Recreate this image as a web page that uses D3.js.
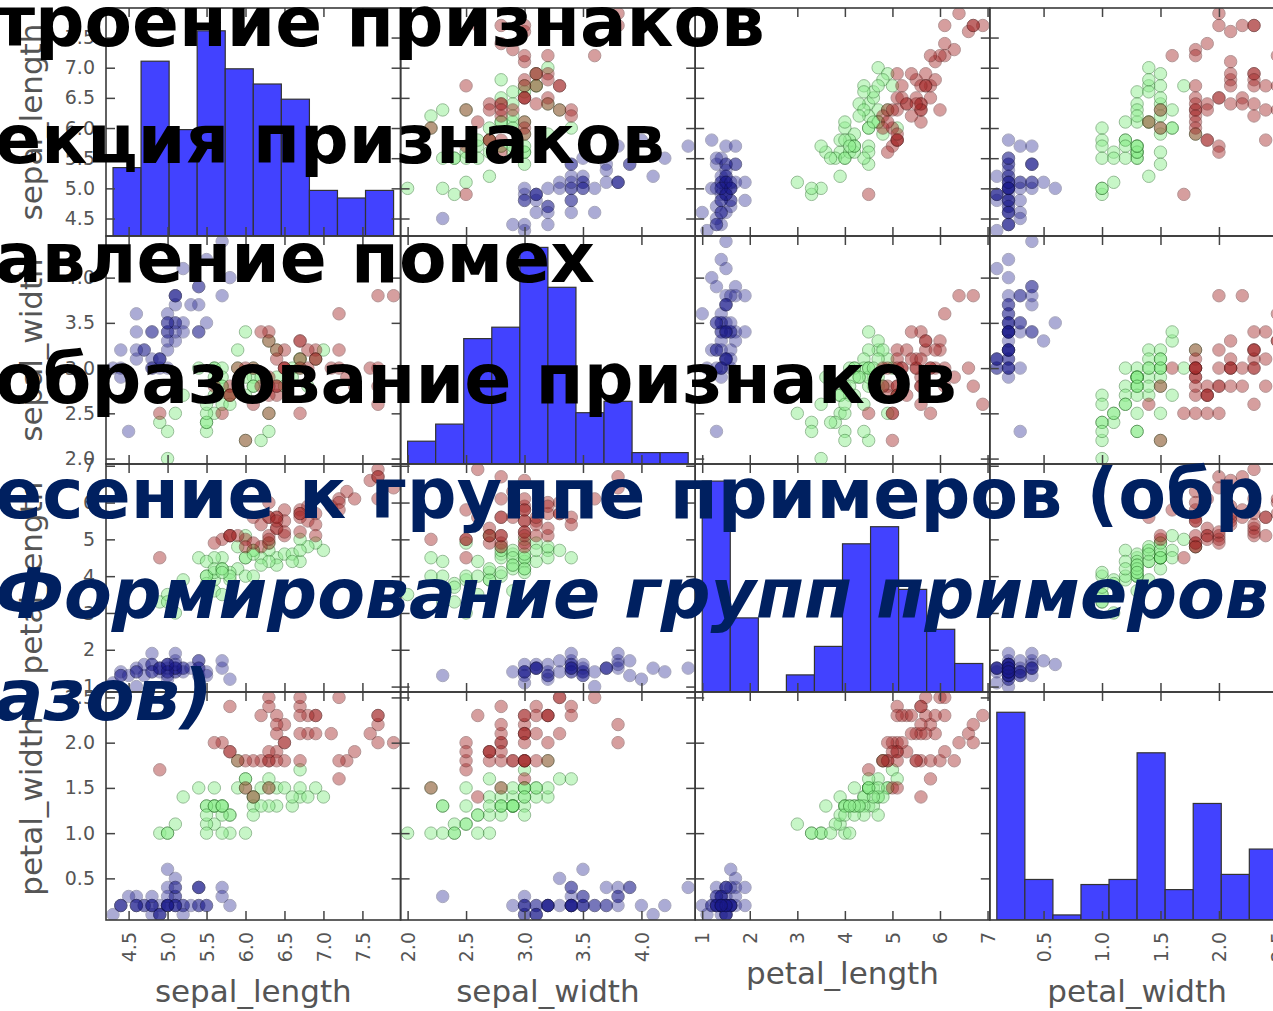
<!DOCTYPE html>
<html>
<head>
<meta charset="utf-8">
<script src="https://cdn.jsdelivr.net/npm/d3@7"></script>
<style>
  body { margin: 0; background: #fff; }
  svg { display: block; }
</style>
</head>
<body>
<div id="chart"></div>
<script>
// iris data: [sepal_length, sepal_width, petal_length, petal_width]
const features = ["sepal_length", "sepal_width", "petal_length", "petal_width"];

const setosa = [
  [5.1,3.5,1.4,0.2],[4.9,3.0,1.4,0.2],[4.7,3.2,1.3,0.2],[4.6,3.1,1.5,0.2],[5.0,3.6,1.4,0.2],
  [5.4,3.9,1.7,0.4],[4.6,3.4,1.4,0.3],[5.0,3.4,1.5,0.2],[4.4,2.9,1.4,0.2],[4.9,3.1,1.5,0.1],
  [5.4,3.7,1.5,0.2],[4.8,3.4,1.6,0.2],[4.8,3.0,1.4,0.1],[4.3,3.0,1.1,0.1],[5.8,4.0,1.2,0.2],
  [5.7,4.4,1.5,0.4],[5.4,3.9,1.3,0.4],[5.1,3.5,1.4,0.3],[5.7,3.8,1.7,0.3],[5.1,3.8,1.5,0.3],
  [5.4,3.4,1.7,0.2],[5.1,3.7,1.5,0.4],[4.6,3.6,1.0,0.2],[5.1,3.3,1.7,0.5],[4.8,3.4,1.9,0.2],
  [5.0,3.0,1.6,0.2],[5.0,3.4,1.6,0.4],[5.2,3.5,1.5,0.2],[5.2,3.4,1.4,0.2],[4.7,3.2,1.6,0.2],
  [4.8,3.1,1.6,0.2],[5.4,3.4,1.5,0.4],[5.2,4.1,1.5,0.1],[5.5,4.2,1.4,0.2],[4.9,3.1,1.5,0.1],
  [5.0,3.2,1.2,0.2],[5.5,3.5,1.3,0.2],[4.9,3.1,1.5,0.1],[4.4,3.0,1.3,0.2],[5.1,3.4,1.5,0.2],
  [5.0,3.5,1.3,0.3],[4.5,2.3,1.3,0.3],[4.4,3.2,1.3,0.2],[5.0,3.5,1.6,0.6],[5.1,3.8,1.9,0.4],
  [4.8,3.0,1.4,0.3],[5.1,3.8,1.6,0.2],[4.6,3.2,1.4,0.2],[5.3,3.7,1.5,0.2],[5.0,3.3,1.4,0.2]
];

const versicolor = [
  [7.0,3.2,4.7,1.4],[6.4,3.2,4.5,1.5],[6.9,3.1,4.9,1.5],[5.5,2.3,4.0,1.3],[6.5,2.8,4.6,1.5],
  [5.7,2.8,4.5,1.3],[6.3,3.3,4.7,1.6],[4.9,2.4,3.3,1.0],[6.6,2.9,4.6,1.3],[5.2,2.7,3.9,1.4],
  [5.0,2.0,3.5,1.0],[5.9,3.0,4.2,1.5],[6.0,2.2,4.0,1.0],[6.1,2.9,4.7,1.4],[5.6,2.9,3.6,1.3],
  [6.7,3.1,4.4,1.4],[5.6,3.0,4.5,1.5],[5.8,2.7,4.1,1.0],[6.2,2.2,4.5,1.5],[5.6,2.5,3.9,1.1],
  [5.9,3.2,4.8,1.8],[6.1,2.8,4.0,1.3],[6.3,2.5,4.9,1.5],[6.1,2.8,4.7,1.2],[6.4,2.9,4.3,1.3],
  [6.6,3.0,4.4,1.4],[6.8,2.8,4.8,1.4],[6.7,3.0,5.0,1.7],[6.0,2.9,4.5,1.5],[5.7,2.6,3.5,1.0],
  [5.5,2.4,3.8,1.1],[5.5,2.4,3.7,1.0],[5.8,2.7,3.9,1.2],[6.0,2.7,5.1,1.6],[5.4,3.0,4.5,1.5],
  [6.0,3.4,4.5,1.6],[6.7,3.1,4.7,1.5],[6.3,2.3,4.4,1.3],[5.6,3.0,4.1,1.3],[5.5,2.5,4.0,1.3],
  [5.5,2.6,4.4,1.2],[6.1,3.0,4.6,1.4],[5.8,2.6,4.0,1.2],[5.0,2.3,3.3,1.0],[5.6,2.7,4.2,1.3],
  [5.7,3.0,4.2,1.2],[5.7,2.9,4.2,1.3],[6.2,2.9,4.3,1.3],[5.1,2.5,3.0,1.1],[5.7,2.8,4.1,1.3]
];

const virginica = [
  [6.3,3.3,6.0,2.5],[5.8,2.7,5.1,1.9],[7.1,3.0,5.9,2.1],[6.3,2.9,5.6,1.8],[6.5,3.0,5.8,2.2],
  [7.6,3.0,6.6,2.1],[4.9,2.5,4.5,1.7],[7.3,2.9,6.3,1.8],[6.7,2.5,5.8,1.8],[7.2,3.6,6.1,2.5],
  [6.5,3.2,5.1,2.0],[6.4,2.7,5.3,1.9],[6.8,3.0,5.5,2.1],[5.7,2.5,5.0,2.0],[5.8,2.8,5.1,2.4],
  [6.4,3.2,5.3,2.3],[6.5,3.0,5.5,1.8],[7.7,3.8,6.7,2.2],[7.7,2.6,6.9,2.3],[6.0,2.2,5.0,1.5],
  [6.9,3.2,5.7,2.3],[5.6,2.8,4.9,2.0],[7.7,2.8,6.7,2.0],[6.3,2.7,4.9,1.8],[6.7,3.3,5.7,2.1],
  [7.2,3.2,6.0,1.8],[6.2,2.8,4.8,1.8],[6.1,3.0,4.9,1.8],[6.4,2.8,5.6,2.1],[7.2,3.0,5.8,1.6],
  [7.4,2.8,6.1,1.9],[7.9,3.8,6.4,2.0],[6.4,2.8,5.6,2.2],[6.3,2.8,5.1,1.5],[6.1,2.6,5.6,1.4],
  [7.7,3.0,6.1,2.3],[6.3,3.4,5.6,2.4],[6.4,3.1,5.5,1.8],[6.0,3.0,4.8,1.8],[6.9,3.1,5.4,2.1],
  [6.7,3.1,5.6,2.4],[6.9,3.1,5.1,2.3],[5.8,2.7,5.1,1.9],[6.8,3.2,5.9,2.3],[6.7,3.3,5.7,2.5],
  [6.7,3.0,5.2,2.3],[6.3,2.5,5.0,1.9],[6.5,3.0,5.2,2.0],[6.2,3.4,5.4,2.3],[5.9,3.0,5.1,1.8]
];

// tick labels shown on the axes
const sepalLengthTicks = [4.5, 5.0, 5.5, 6.0, 6.5, 7.0, 7.5];
const sepalWidthTicks = [2.0, 2.5, 3.0, 3.5, 4.0];
const petalLengthTicks = [1, 2, 3, 4, 5, 6, 7];
const petalWidthTicks = [0.5, 1.0, 1.5, 2.0, 2.5];

// slide text laid over the chart (visible parts)
const headingLines = [
  "троение признаков",
  "екция признаков",
  "авление помех",
  "образование признаков",
  "есение к группе примеров (обр",
  "Формирование групп примеров",
  "азов)"
];

const W = 1273, H = 1011;
const gridLeft = 106, gridTop = 8, cellW = 294.6, cellH = 228;
const nBins = 10;
const speciesColor = ["#1a1a8c", "#90ee90", "#a52a2a"];
const speciesStroke = ["#10104a", "#2d7a2d", "#5a1414"];
const speciesOpacity = [0.36, 0.5, 0.45];
const axisColor = "#444";
const labelColor = "#555";

const tickSets = [sepalLengthTicks, sepalWidthTicks, petalLengthTicks, petalWidthTicks];
const tickFormats = [d3.format(".1f"), d3.format(".1f"), d3.format("d"), d3.format(".1f")];

const rows = [].concat(
  setosa.map(v => ({v: v, s: 0})),
  versicolor.map(v => ({v: v, s: 1})),
  virginica.map(v => ({v: v, s: 2}))
);

const svg = d3.select("#chart").append("svg")
  .attr("width", W)
  .attr("height", H)
  .style("font-family", "'DejaVu Sans', sans-serif");

svg.append("rect").attr("width", W).attr("height", H).attr("fill", "#fff");

// pandas style padding: 2.5% of range on each side
const extents = features.map((f, k) => d3.extent(rows, d => d.v[k]));
const xScales = extents.map(e => {
  const pad = (e[1] - e[0]) * 0.025;
  return d3.scaleLinear().domain([e[0] - pad, e[1] + pad]).range([0, cellW]);
});
const yScales = extents.map(e => {
  const pad = (e[1] - e[0]) * 0.025;
  return d3.scaleLinear().domain([e[0] - pad, e[1] + pad]).range([cellH, 0]);
});

const defs = svg.append("defs");
const n = features.length;

function styleAxis(g) {
  g.select(".domain").remove();
  g.selectAll(".tick line").attr("stroke", axisColor).attr("stroke-width", 1.5);
  g.selectAll(".tick text").attr("fill", labelColor).style("font-size", "19px")
    .style("font-family", "'DejaVu Sans', sans-serif");
}

for (let i = 0; i < n; i++) {
  for (let j = 0; j < n; j++) {
    const gx = gridLeft + j * cellW, gy = gridTop + i * cellH;
    const cell = svg.append("g").attr("transform", `translate(${gx},${gy})`);
    const clipId = `clip-${i}-${j}`;
    defs.append("clipPath").attr("id", clipId)
      .append("rect").attr("width", cellW).attr("height", cellH);
    const plot = cell.append("g").attr("clip-path", `url(#${clipId})`);
    const xs = xScales[j];

    if (i === j) {
      // 10 equal bins between min and max, bin index = floor((x - min) * norm)
      const e = extents[j];
      const step = (e[1] - e[0]) / nBins;
      const norm = nBins / (e[1] - e[0]);
      const bins = d3.bin()
        .value(d => Math.min(nBins - 1, Math.floor((d.v[j] - e[0]) * norm)))
        .domain([0, nBins])
        .thresholds(d3.range(1, nBins))(rows);
      const hy = d3.scaleLinear()
        .domain([0, d3.max(bins, b => b.length)]).nice(8)
        .range([cellH, 0]);
      plot.selectAll("rect.bar").data(bins).enter().append("rect")
        .attr("class", "bar")
        .attr("x", b => xs(e[0] + b.x0 * step))
        .attr("width", b => xs(e[0] + b.x1 * step) - xs(e[0] + b.x0 * step))
        .attr("y", b => hy(b.length))
        .attr("height", b => cellH - hy(b.length))
        .attr("fill", "#4242ff")
        .attr("stroke", "#333")
        .attr("stroke-width", 1.2);
    } else {
      const ys = yScales[i];
      plot.selectAll("circle").data(rows).enter().append("circle")
        .attr("cx", d => xs(d.v[j]))
        .attr("cy", d => ys(d.v[i]))
        .attr("r", 6.2)
        .attr("fill", d => speciesColor[d.s])
        .attr("stroke", d => speciesStroke[d.s])
        .attr("stroke-width", 1)
        .attr("opacity", d => speciesOpacity[d.s]);
    }

    // x ticks (inside), labels only on bottom row
    const bottom = cell.append("g").attr("transform", `translate(0,${cellH})`)
      .call(d3.axisBottom(xs).tickValues(tickSets[j]).tickSizeInner(-9).tickSizeOuter(0)
        .tickFormat(i === n - 1 ? tickFormats[j] : ""));
    styleAxis(bottom);
    if (i === n - 1) {
      bottom.selectAll(".tick text")
        .attr("transform", "rotate(-90)")
        .attr("x", -12).attr("y", 0).attr("dy", "0.35em")
        .attr("text-anchor", "end");
    }
    const topAx = cell.append("g")
      .call(d3.axisTop(xs).tickValues(tickSets[j]).tickSizeInner(-9).tickSizeOuter(0).tickFormat(""));
    styleAxis(topAx);

    // y ticks (inside); hist cells have none except the first one
    if (i !== j || i === 0) {
      const ys = yScales[i];
      const leftAx = cell.append("g")
        .call(d3.axisLeft(ys).tickValues(tickSets[i]).tickSizeInner(-9).tickSizeOuter(0)
          .tickPadding(11).tickFormat(j === 0 ? tickFormats[i] : ""));
      styleAxis(leftAx);
      const rightAx = cell.append("g").attr("transform", `translate(${cellW},0)`)
        .call(d3.axisRight(ys).tickValues(tickSets[i]).tickSizeInner(-9).tickSizeOuter(0).tickFormat(""));
      styleAxis(rightAx);
    }

    cell.append("rect")
      .attr("width", cellW).attr("height", cellH)
      .attr("fill", "none").attr("stroke", "#3a3a3a").attr("stroke-width", 1.6);

    // axis titles
    if (i === n - 1) {
      let maxW = 0;
      bottom.selectAll(".tick text").each(function () {
        maxW = Math.max(maxW, this.getComputedTextLength());
      });
      cell.append("text")
        .attr("x", cellW / 2)
        .attr("y", cellH + 12 + maxW + 40)
        .attr("text-anchor", "middle")
        .attr("fill", labelColor)
        .style("font-size", "31px")
        .text(features[j]);
    }
    if (j === 0) {
      cell.append("text")
        .attr("transform", `translate(${42 - gridLeft},${cellH / 2}) rotate(-90)`)
        .attr("text-anchor", "middle")
        .attr("fill", labelColor)
        .style("font-size", "31px")
        .text(features[i]);
    }
  }
}

// overlay text from the slide
const lineBaselines = [46, 163, 282, 403, 518, 618, 720];
const lineRight = [765, 665, 595, 957, null, null, 213];
const lineColor = ["#000", "#000", "#000", "#000", "#002060", "#002060", "#002060"];
const lineItalic = [false, false, false, false, false, true, true];
const lineStart = -5;
const baseSize = 66;

const overlay = svg.append("g").style("font-weight", "bold");
const texts = overlay.selectAll("text").data(headingLines).enter().append("text")
  .attr("x", lineStart)
  .attr("y", (d, k) => lineBaselines[k])
  .attr("fill", (d, k) => lineColor[k])
  .style("font-style", (d, k) => lineItalic[k] ? "italic" : "normal")
  .style("font-size", baseSize + "px")
  .text(d => d);

const fitted = [];
texts.each(function (d, k) {
  if (lineRight[k] !== null) {
    const w = this.getComputedTextLength();
    const fs = baseSize * (lineRight[k] - lineStart) / w;
    fitted.push(fs);
    d3.select(this).style("font-size", fs + "px");
  }
});
const meanSize = d3.mean(fitted);
texts.filter((d, k) => lineRight[k] === null).style("font-size", meanSize + "px");
</script>
</body>
</html>
